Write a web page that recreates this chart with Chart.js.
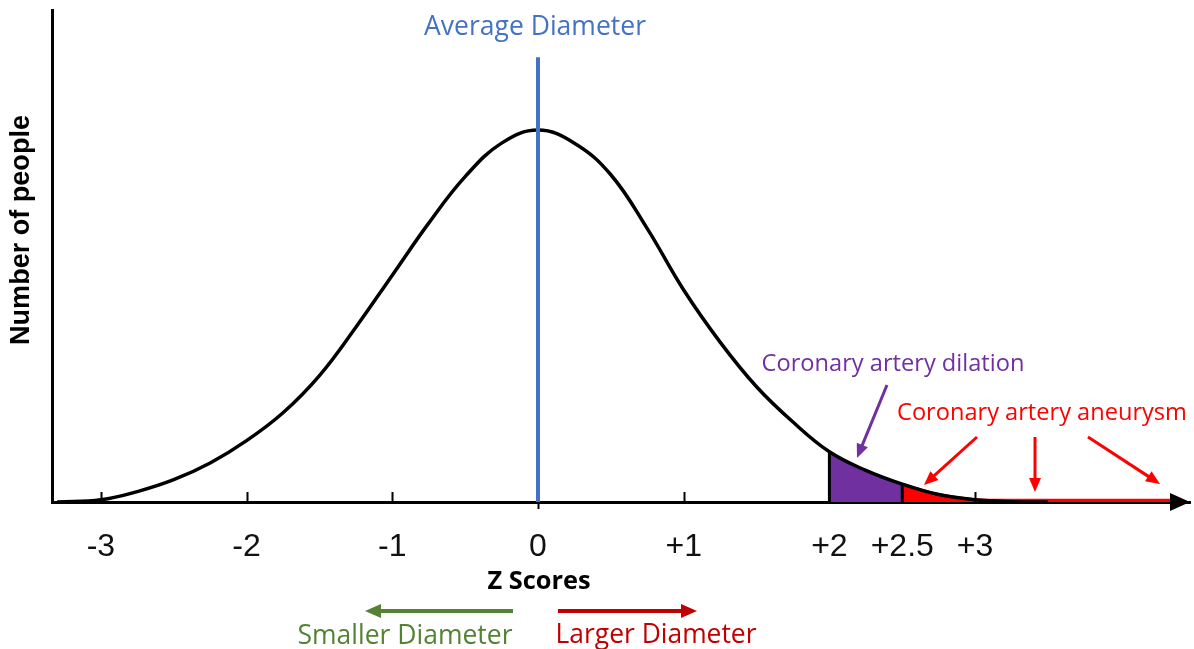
<!DOCTYPE html>
<html>
<head>
<meta charset="utf-8">
<script src="https://cdn.jsdelivr.net/npm/chart.js@4.4.1/dist/chart.umd.min.js"></script>
<style>
  body { margin: 0; background: #fff; }
  canvas { display: block; }
</style>
</head>
<body>
<canvas id="zChart" width="1194" height="649"></canvas>
<script>
// values (height of curve, peak = 100)
const zScores = [-3.3, -3, -2.75, -2.5, -2.25, -2, -1.75, -1.5, -1.25, -1, -0.75, -0.5, -0.25, 0,
  0.25, 0.5, 0.75, 1, 1.25, 1.5, 1.75, 2, 2.25, 2.5, 2.75, 3, 3.25, 3.5];
const peopleCounts = [0, 0.6, 2.8, 6, 10.5, 16.5, 24, 34, 47, 61, 75, 87.5, 96.5, 100,
  96.5, 88, 73.5, 57, 43, 31, 21.5, 13.5, 8.5, 4.8, 2, 0.6, 0.1, 0];

const tickValues = [-3, -2, -1, 0, 1, 2, 2.5, 3];
const tickLabels = ["-3", "-2", "-1", "0", "+1", "+2", "+2.5", "+3"];

const dilationRange = [2, 2.5];
const aneurysmStart = 2.5;
const aneurysmTailZ = [3.25, 4.35];
const aneurysmTailCount = [0.5, 0.5];
const averageZ = 0;
const averageLineTop = 119.6;

var curvePoints = zScores.map(function (z, i) { return { x: z, y: peopleCounts[i] }; });
var dilationPoints = curvePoints.filter(function (p) { return p.x >= dilationRange[0] && p.x <= dilationRange[1]; });
var aneurysmPoints = curvePoints.filter(function (p) { return p.x >= aneurysmStart && p.x <= 3; });
for (var i = 0; i < aneurysmTailZ.length; ++i) {
  aneurysmPoints.push({ x: aneurysmTailZ[i], y: aneurysmTailCount[i] });
}
function heightAt(z) {
  return peopleCounts[zScores.indexOf(z)];
}

function fitFont(ctx, text, width, weight, family) {
  ctx.font = weight + " 20px " + family;
  var w = ctx.measureText(text).width;
  return weight + " " + (20 * width / w).toFixed(2) + "px " + family;
}
function label(ctx, text, cx, cy, width, color, weight, family) {
  ctx.save();
  ctx.font = fitFont(ctx, text, width, weight, family);
  ctx.fillStyle = color;
  ctx.textAlign = "center";
  ctx.textBaseline = "middle";
  ctx.fillText(text, cx, cy);
  ctx.restore();
}
function arrow(ctx, x1, y1, x2, y2, color, lw, headLen, headW) {
  var a = Math.atan2(y2 - y1, x2 - x1);
  ctx.save();
  ctx.strokeStyle = color;
  ctx.fillStyle = color;
  ctx.lineWidth = lw;
  ctx.beginPath();
  ctx.moveTo(x1, y1);
  ctx.lineTo(x2 - Math.cos(a) * headLen * 0.8, y2 - Math.sin(a) * headLen * 0.8);
  ctx.stroke();
  ctx.beginPath();
  ctx.moveTo(x2, y2);
  ctx.lineTo(x2 - Math.cos(a) * headLen - Math.sin(a) * headW, y2 - Math.sin(a) * headLen + Math.cos(a) * headW);
  ctx.lineTo(x2 - Math.cos(a) * headLen + Math.sin(a) * headW, y2 - Math.sin(a) * headLen - Math.cos(a) * headW);
  ctx.closePath();
  ctx.fill();
  ctx.restore();
}

const extras = {
  id: "extras",
  afterDraw(chart) {
    var ctx = chart.ctx;
    var xs = chart.scales.x;
    var area = chart.chartArea;
    var base = area.bottom;

    // tick marks pointing up from the axis
    ctx.save();
    ctx.strokeStyle = "#000";
    ctx.lineWidth = 2;
    tickValues.forEach(function (v) {
      if (v === 2 || v === 2.5) return;
      var px = Math.round(xs.getPixelForValue(v)) + 0.5;
      ctx.beginPath();
      if (v === 0) {
        ctx.moveTo(px, base);
        ctx.lineTo(px, base + 7);
      } else {
        ctx.moveTo(px, base - 10);
        ctx.lineTo(px, base);
      }
      ctx.stroke();
    });
    ctx.restore();

    // arrow head of the x axis
    ctx.save();
    ctx.fillStyle = "#000";
    ctx.beginPath();
    ctx.moveTo(area.right, base);
    ctx.lineTo(area.right - 20, base - 9);
    ctx.lineTo(area.right - 20, base + 9);
    ctx.closePath();
    ctx.fill();
    ctx.restore();

    var calib = "'Open Sans', 'Noto Sans', sans-serif";
    label(ctx, "Average Diameter", 535, 27, 222, "#4472C4", "normal", calib);
    label(ctx, "Coronary artery dilation", 893, 364, 263, "#7030A0", "normal", calib);
    label(ctx, "Coronary artery aneurysm", 1042, 413, 290, "#FF0000", "normal", calib);
    label(ctx, "Z Scores", 539, 582, 103, "#000", "bold", calib);
    label(ctx, "Smaller Diameter", 405, 636, 215, "#548235", "normal", calib);
    label(ctx, "Larger Diameter", 656, 635, 201, "#C00000", "normal", calib);

    ctx.save();
    ctx.translate(22, 230);
    ctx.rotate(-Math.PI / 2);
    label(ctx, "Number of people", 0, 0, 230, "#000", "bold", "'Liberation Sans', Arial, sans-serif");
    ctx.restore();

    arrow(ctx, 887, 385, 857, 458, "#7030A0", 3, 14, 6);
    arrow(ctx, 977, 437, 924, 485, "#FF0000", 3, 14, 6);
    arrow(ctx, 1035, 437, 1035, 492, "#FF0000", 3, 14, 6);
    arrow(ctx, 1088, 437, 1160, 484, "#FF0000", 3, 14, 6);
    arrow(ctx, 513, 611, 365, 611, "#548235", 4, 16, 7);
    arrow(ctx, 558, 611, 697, 611, "#C00000", 4, 16, 7);
  }
};

var ctx = document.getElementById("zChart").getContext("2d");
new Chart(ctx, {
  type: "line",
  data: {
    datasets: [
      {
        data: curvePoints,
        borderColor: "#000",
        borderWidth: 3.5,
        pointRadius: 0,
        tension: 0.4,
        fill: false,
        order: 1,
      },
      {
        data: dilationPoints,
        borderColor: "#7030A0",
        borderWidth: 0,
        backgroundColor: "#7030A0",
        pointRadius: 0,
        tension: 0.4,
        fill: "origin",
        order: 4,
      },
      {
        data: aneurysmPoints,
        borderColor: "#FF0000",
        borderWidth: 3,
        backgroundColor: "#FF0000",
        pointRadius: 0,
        tension: 0.3,
        fill: "origin",
        order: 4,
      },
      {
        data: [{ x: dilationRange[0], y: 0 }, { x: dilationRange[0], y: heightAt(dilationRange[0]) }],
        borderColor: "#000",
        borderWidth: 3,
        pointRadius: 0,
        order: 2,
      },
      {
        data: [{ x: dilationRange[1], y: 0 }, { x: dilationRange[1], y: heightAt(dilationRange[1]) }],
        borderColor: "#000",
        borderWidth: 3,
        pointRadius: 0,
        order: 2,
      },
      {
        data: [{ x: averageZ, y: 0 }, { x: averageZ, y: averageLineTop }],
        borderColor: "#4472C4",
        borderWidth: 4,
        pointRadius: 0,
        order: 0,
      },
    ],
  },
  options: {
    responsive: false,
    animation: false,
    layout: { padding: { left: 52, right: 4, top: 10, bottom: 87 } },
    plugins: { legend: { display: false }, tooltip: { enabled: false } },
    scales: {
      x: {
        type: "linear",
        min: -3.3356,
        max: 4.475,
        grid: { display: false },
        border: { display: true, color: "#000", width: 3 },
        afterBuildTicks: function (scale) {
          scale.ticks = tickValues.map(function (v) { return { value: v }; });
        },
        afterFit: function (scale) { scale.height = 60; },
        ticks: {
          autoSkip: false,
          maxRotation: 0,
          padding: 18,
          color: "#111",
          font: { family: "'Liberation Sans', Arial, sans-serif", size: 32 },
          callback: function (v) { return tickLabels[tickValues.indexOf(v)]; },
        },
      },
      y: {
        min: 0,
        max: 132.3,
        grid: { display: false },
        border: { display: true, color: "#000", width: 3 },
        ticks: { display: false },
        afterFit: function (scale) { scale.width = 0; },
      },
    },
  },
  plugins: [extras],
});
</script>
</body>
</html>
